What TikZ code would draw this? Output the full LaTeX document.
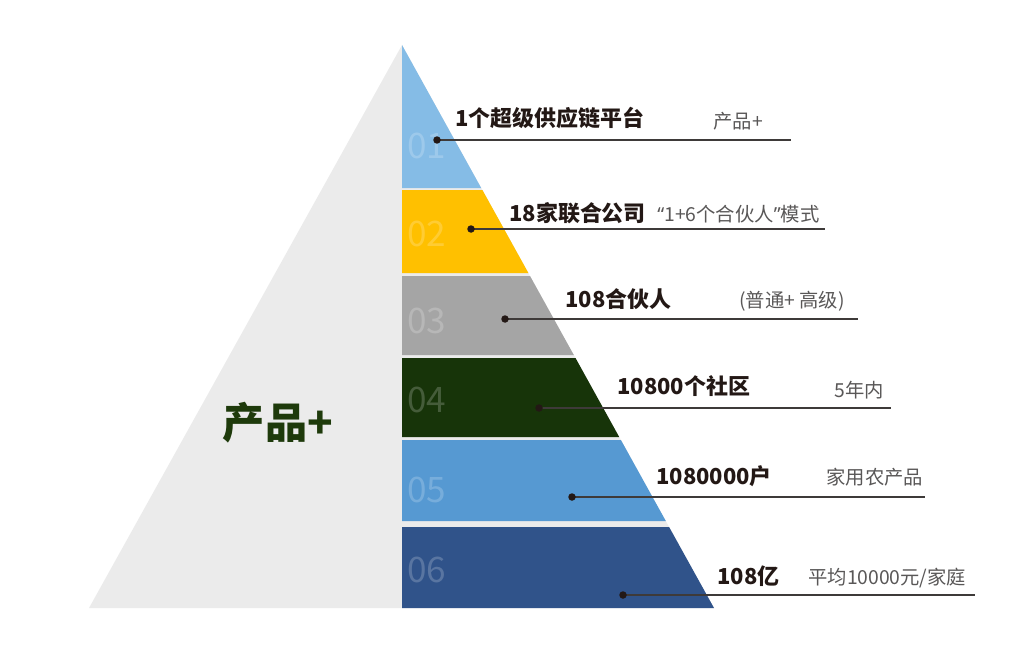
\documentclass[tikz,border=0pt]{standalone}
\usepackage{fontspec}
\usepackage{tikz}
\usetikzlibrary{calc}

\newfontfamily\cjk{Noto Sans CJK SC}
\newfontfamily\quotefont{Noto Sans}

\definecolor{pyrgray}{HTML}{EBEBEB}
\definecolor{bandA}{HTML}{85BCE6}
\definecolor{bandB}{HTML}{FFC000}
\definecolor{bandC}{HTML}{A5A5A5}
\definecolor{bandD}{HTML}{173409}
\definecolor{bandE}{HTML}{5699D2}
\definecolor{bandF}{HTML}{30538A}
\definecolor{pyrtext}{HTML}{1E3A0B}
\definecolor{titletext}{HTML}{231815}
\definecolor{notetext}{HTML}{595757}
\definecolor{leader}{HTML}{3E3A39}

\tikzset{
	title/.style = {anchor=west, inner sep=0pt, text=titletext, font=\cjk\bfseries\fontsize{12.5}{14}\selectfont},
	note/.style = {anchor=west, inner sep=0pt, text=notetext, font=\cjk\fontsize{11}{13}\selectfont},
	bandnum/.style = {anchor=west, inner sep=0pt, text=white, text opacity=0.2, font=\cjk\fontsize{20}{24}\selectfont},
}

\begin{document}
\begin{tikzpicture}[x=0.02cm, y=-0.02cm]
		\useasboundingbox (0,0) rectangle (1024,669);

		\fill [pyrgray] (402,45) -- (89,608) -- (714,608) -- cycle;

		\foreach \yt/\xt/\yb/\xb/\col/\num/\ny in {45/402/188/481.2/bandA/01/146, 190/482.4/273/528.4/bandB/02/234, 276/530/355/573.8/bandC/03/321, 358/575.5/437/619.2/bandD/04/400, 440/620.9/521/665.8/bandE/05/490, 527/669.1/608/714/bandF/06/570}
		{
			\fill [\col] (402,\yt) -- (\xt,\yt) -- (\xb,\yb) -- (402,\yb) -- cycle;
			\node [bandnum] (num\num) at (407,\ny) {\num};
		}

		\node [font=\cjk\bfseries\fontsize{24}{28}\selectfont, text=pyrtext] (pyrlabel) at (278,423) {产品+};

		\foreach \i/\dx/\dy/\ex/\tx/\ty/\tt/\sx/\sy/\st in {1/437/140/791/455/118/{1个超级供应链平台}/713/121/{产品+}, 2/471/229/825/509/213/{18家联合公司}/657/214/{{\quotefont “}1+6个合伙人{\quotefont ”}模式}, 3/505/319/858/565/299/{108合伙人}/739/301/{(普通+ 高级)}, 4/539/408/891/617/386/{10800个社区}/834/390/{5年内}, 5/572/497/925/656/476/{1080000户}/826/477/{家用农产品}, 6/623/595/975/717/576/{108亿}/808/578/{平均10000元/家庭}}
		{
			\coordinate (dot\i) at (\dx,\dy);
			\coordinate (end\i) at (\ex,\dy);
			\draw [leader, line width=0.7pt] (dot\i) -- (end\i);
			\fill [titletext] (dot\i) circle [radius=0.075cm];
			\node [title] (title\i) at (\tx,\ty) {\tt};
			\node [note] (note\i) at (\sx,\sy) {\st};
		}
	\end{tikzpicture}
\end{document}
